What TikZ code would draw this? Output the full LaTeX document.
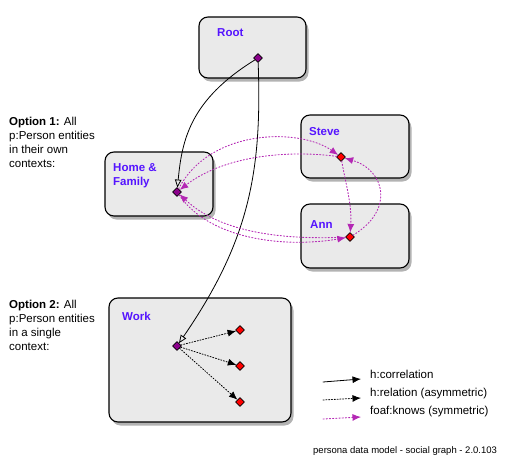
\documentclass[tikz,border=0pt]{standalone}
\usepackage{fontspec}
\setmainfont{Liberation Sans}
\usetikzlibrary{arrows.meta,shapes.geometric,shadows}
\definecolor{ctxblue}{RGB}{85,20,255}
\definecolor{pdia}{RGB}{140,0,140}
\definecolor{foaf}{RGB}{180,40,180}
\definecolor{boxgray}{RGB}{234,234,234}
\begin{document}
\begin{tikzpicture}[x=1pt,y=-1pt,font=\fontsize{11.5}{14}\selectfont,line join=round,line cap=round,>={Latex[length=8.5pt,width=7pt]}]
	\tikzset{ctx/.style={draw,line width=1.1pt,fill=boxgray,rounded corners=9pt,inner sep=0pt,drop shadow={shadow xshift=2.5pt,shadow yshift=-3.5pt,opacity=0.6}},
		ctxname/.style={font=\fontsize{11.5}{14}\selectfont\bfseries,text=ctxblue,align=left,anchor=base west,inner sep=0pt},
		pe/.style={diamond,draw,line width=0.7pt,minimum size=9pt,inner sep=0pt},
		corr/.style={line width=0.8pt,-{Triangle[open,length=8pt,width=6.5pt]}},
		rel/.style={line width=0.8pt,dash pattern=on 1.2pt off 1.6pt,->},
		knows/.style={foaf,line width=0.9pt,dash pattern=on 1.2pt off 2pt,->},
		txt/.style={align=left,anchor=base west,inner sep=0pt}}
	\useasboundingbox (0,0) rectangle (515,469);
	\node[ctx,minimum width=107pt,minimum height=61pt] (root) at (252.5,47.5) {};
	\node[ctx,minimum width=108pt,minimum height=64pt] (home) at (159,184) {};
	\node[ctx,minimum width=108pt,minimum height=63pt] (steve) at (355,146.5) {};
	\node[ctx,minimum width=108pt,minimum height=64pt] (ann) at (355,236) {};
	\node[ctx,minimum width=182pt,minimum height=124pt] (work) at (200,360) {};
	\node[ctxname] (rootname) at (217,36.5) {Root};
	\node[ctxname] (homename) at (113,185) {Home \&\\Family};
	\node[ctxname] (stevename) at (309,135) {Steve};
	\node[ctxname] (annname) at (310,228) {Ann};
	\node[ctxname] (workname) at (122,320) {Work};
	\node[txt] (opt1) at (9,167) {\textbf{Option 1:} All\\p:Person entities\\in their own\\contexts:};
	\node[txt] (opt2) at (9,350) {\textbf{Option 2:} All\\p:Person entities\\in a single\\context:};
	\node[pe,fill=pdia] (pRoot) at (258,58) {};
	\node[pe,fill=pdia] (pHome) at (177,192) {};
	\node[pe,fill=red] (pSteve) at (341,157) {};
	\node[pe,fill=red] (pAnn) at (350,237) {};
	\node[pe,fill=pdia] (pWork) at (177,346) {};
	\foreach \i/\yy in {1/330,2/366,3/402}{
		\node[pe,fill=red] (pW\i) at (240,\yy) {};
		\draw[rel] (pWork) -- (pW\i);
	}
	\draw[corr] (pRoot) .. controls (190,100) and (182,140) .. (pHome);
	\draw[corr] (pRoot) .. controls (262,170) and (250,240) .. (pWork);
	\draw[knows] (pHome) .. controls (210,128) and (300,128) .. (pSteve);
	\draw[knows] (pSteve) .. controls (290,150) and (225,155) .. (pHome);
	\draw[knows] (pHome) .. controls (210,240) and (285,248) .. (pAnn);
	\draw[knows] (pAnn) .. controls (280,240) and (220,232) .. (pHome);
	\draw[knows] (pSteve) .. controls (346,185) and (352,205) .. (pAnn);
	\draw[knows] (pAnn) .. controls (395,210) and (385,170) .. (pSteve);
	\coordinate (l1a) at (323,382);
	\coordinate (l1b) at (361,379);
	\coordinate (l2a) at (323,400);
	\coordinate (l2b) at (361,398);
	\coordinate (l3a) at (323,419);
	\coordinate (l3b) at (361,417);
	\draw[line width=0.8pt,->] (l1a) -- (l1b);
	\draw[rel] (l2a) -- (l2b);
	\draw[knows] (l3a) -- (l3b);
	\node[txt] (leg1) at (370,378) {h:correlation};
	\node[txt] (leg2) at (370,396) {h:relation (asymmetric)};
	\node[txt] (leg3) at (370,414) {foaf:knows (symmetric)};
	\node[txt,font=\fontsize{9.5}{11}\selectfont] (footer) at (313,453) {persona data model - social graph - 2.0.103};
\end{tikzpicture}
\end{document}
